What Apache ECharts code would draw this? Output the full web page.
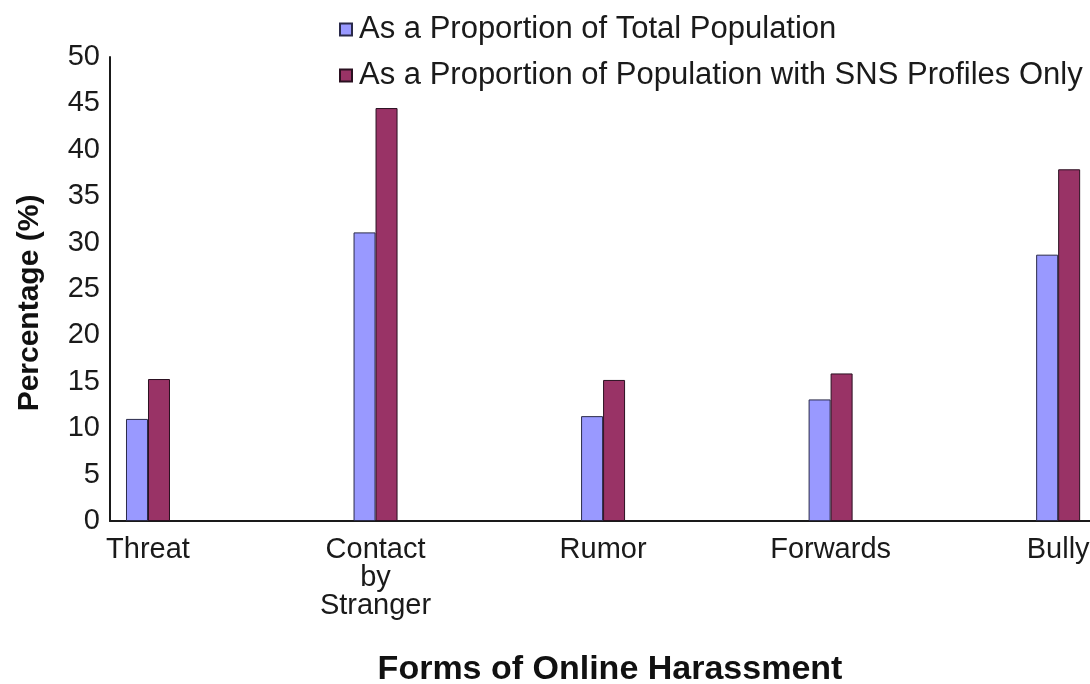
<!DOCTYPE html>
<html>
<head>
<meta charset="utf-8">
<script src="https://cdn.jsdelivr.net/npm/echarts@6/dist/echarts.min.js"></script>
<style>
html,body{margin:0;padding:0;background:#fff;}
#chart{width:1090px;height:684px;}
</style>
</head>
<body>
<div id="chart"></div>
<script>
const categories = ['Threat', 'Contact\nby\nStranger', 'Rumor', 'Forwards', 'Bully'];
const seriesNames = ['As a Proportion of Total Population', 'As a Proportion of Population with SNS Profiles Only'];
const totalPopulation = [11.0, 31.1, 11.3, 13.1, 28.7];
const snsPopulation = [15.3, 44.5, 15.2, 15.9, 37.9];
const yTicks = [0, 5, 10, 15, 20, 25, 30, 35, 40, 45, 50];

const font = '"Liberation Sans", Arial, Helvetica, sans-serif';
const chart = echarts.init(document.getElementById('chart'));
const toPairs = arr => arr.map((v, i) => [i, v]);

chart.setOption({
  animation: false,
  backgroundColor: '#fff',
  textStyle: { fontFamily: font },
  legend: {
    left: 334, top: 9,
    orient: 'vertical',
    itemWidth: 12, itemHeight: 12, itemGap: 15,
    icon: 'rect',
    data: seriesNames,
    textStyle: { fontSize: 31, color: '#1a1a1a', fontFamily: font, padding: [0, 0, 0, 2] }
  },
  grid: { left: 110, right: 0, top: 57, bottom: 163, containLabel: false, outerBoundsMode: 'none' },
  xAxis: {
    type: 'value',
    min: -0.167, max: 4.14,
    splitLine: { show: false },
    axisLine: { show: true, onZero: false, lineStyle: { color: '#1a1a1a', width: 2 } },
    axisTick: { show: false },
    axisLabel: {
      customValues: categories.map((c, i) => i),
      formatter: v => categories[Math.round(v)] || '',
      fontSize: 29, color: '#1a1a1a', lineHeight: 28, margin: 15, fontFamily: font,
      showMinLabel: true, showMaxLabel: true
    },
    name: 'Forms of Online Harassment',
    nameLocation: 'middle',
    nameGap: 132,
    nameTextStyle: { fontSize: 34, fontWeight: 'bold', color: '#111', fontFamily: font, padding: [0, 0, 0, 20] }
  },
  yAxis: {
    type: 'value',
    min: 0, max: 50, interval: 5,
    splitLine: { show: false },
    axisLine: { show: true, onZero: false, lineStyle: { color: '#1a1a1a', width: 2 } },
    axisTick: { show: false },
    axisLabel: {
      fontSize: 29, color: '#1a1a1a', margin: 10, fontFamily: font,
      customValues: yTicks
    },
    name: 'Percentage (%)',
    nameLocation: 'middle',
    nameGap: 65,
    nameTextStyle: { fontSize: 30, fontWeight: 'bold', color: '#111', fontFamily: font, padding: [0, 28, 0, 0] }
  },
  series: [
    {
      name: seriesNames[0], type: 'bar', data: toPairs(totalPopulation),
      barWidth: 22, barGap: '0%',
      itemStyle: { color: '#9999FF', borderColor: '#2a2a4a', borderWidth: 1 }
    },
    {
      name: seriesNames[1], type: 'bar', data: toPairs(snsPopulation),
      barWidth: 22, barGap: '0%',
      itemStyle: { color: '#993366', borderColor: '#2a1020', borderWidth: 1 }
    }
  ]
});
</script>
</body>
</html>
